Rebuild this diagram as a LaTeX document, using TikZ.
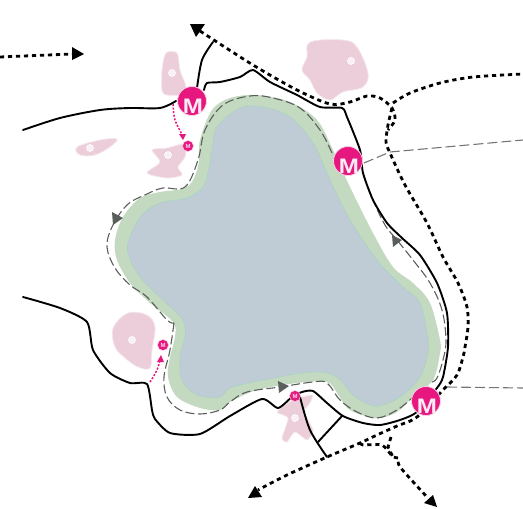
\documentclass[tikz,border=0pt]{standalone}
\usepackage{fontspec}
\setsansfont{Liberation Sans}
\definecolor{lakeGreen}{HTML}{C3DAC0}
\definecolor{lakeWater}{HTML}{BFCCD6}
\definecolor{lakeEdge}{HTML}{A9D3C4}
\definecolor{blobPink}{HTML}{EBCEDA}
\definecolor{metroPink}{HTML}{E6177F}
\definecolor{pathGrey}{HTML}{5A5F5C}
\tikzset{
  blob/.style={fill=blobPink,draw=blobPink!45,line width=.8pt},
  blobhole/.style={circle,fill=white!70!blobPink,draw=white,line width=.6pt,minimum size=7pt,inner sep=0pt},
  road/.style={draw=black,line width=1.9pt,line join=round,line cap=round},
  trail/.style={draw=black,line width=2.8pt,dash pattern=on 4.2pt off 3.8pt},
  thindash/.style={draw=pathGrey,line width=1.1pt,dash pattern=on 9pt off 3.5pt},
  greydash/.style={draw=pathGrey!85!white,line width=1.1pt,dash pattern=on 10pt off 4pt},
  pinkdots/.style={draw=metroPink,line width=1.5pt,dash pattern=on 2pt off 1.6pt},
  metro/.style={circle,fill=metroPink,draw=white!80!metroPink,line width=.8pt,minimum size=29pt,inner sep=0pt},
  metrosmall/.style={circle,fill=metroPink,draw=white!80!metroPink,line width=.5pt,minimum size=11pt,inner sep=0pt},
  metrotext/.style={font=\sffamily\bfseries\fontsize{21}{21}\selectfont,text=white!92!metroPink,inner sep=0pt,xscale=1.15},
  metrotiny/.style={font=\sffamily\bfseries\fontsize{6}{6}\selectfont,text=white!85!metroPink,inner sep=0pt},
}
\begin{document}
\begin{tikzpicture}[x=1pt,y=-1pt]
\useasboundingbox (0,0) rectangle (523,509);
% blobs
\fill[blob] plot[smooth cycle,tension=.5] coordinates {(166,53)(177,53)(180,70)(186,87)(180,95)(163,93)(162,70)};
\fill[blob] plot[smooth cycle,tension=.5] coordinates {(152,150)(167,148)(185,144)(185,157)(178,167)(182,175)(167,178)(147,173)(160,162)};
\fill[blob] plot[smooth cycle,tension=.6] coordinates {(310,42)(343,40)(357,47)(368,73)(363,87)(343,92)(330,100)(317,93)(310,80)(302,70)(307,57)};
\fill[blob] plot[smooth cycle,tension=.6] coordinates {(77,147)(100,140)(117,139)(110,147)(95,155)(80,155)};
\fill[blob] plot[smooth cycle,tension=.6] coordinates {(128,313)(147,315)(155,327)(152,350)(150,368)(138,367)(125,358)(115,347)(113,328)};
\fill[blob] plot[smooth cycle,tension=.4] coordinates {(277,412)(293,400)(312,395)(310,403)(304,412)(313,430)(307,440)(295,432)(287,442)(282,438)(288,418)};
\node[blobhole] (h1) at (172,73) {};
\node[blobhole] (h2) at (168,155) {};
\node[blobhole] (h3) at (351,61) {};
\node[blobhole] (h4) at (90,148) {};
\node[blobhole] (h5) at (132,340) {};
\node[blobhole] (h6) at (295,418) {};
% lake
\fill[lakeGreen] plot[smooth cycle,tension=.55] coordinates {(257,95)(290,102)(317,120)(333,150)(350,187)(373,233)(393,267)(413,283)(430,303)(440,340)(440,353)(433,380)(413,397)(397,412)(377,418)(350,410)(337,393)(327,382)(297,383)(257,390)(230,402)(220,410)(200,408)(177,397)(168,377)(170,357)(175,337)(173,322)(150,303)(130,283)(117,260)(115,240)(123,217)(140,198)(160,192)(187,187)(198,167)(200,140)(212,110)(230,98)};
\filldraw[fill=lakeWater,draw=lakeEdge,line width=.6pt] plot[smooth cycle,tension=.55] coordinates {(263,107)(290,117)(313,143)(330,180)(350,220)(377,260)(403,287)(420,303)(428,340)(427,357)(420,377)(403,395)(383,405)(370,405)(353,395)(337,377)(313,372)(263,380)(230,388)(220,397)(197,395)(182,380)(180,357)(185,337)(183,320)(163,300)(140,277)(128,253)(130,237)(142,215)(160,203)(187,198)(203,187)(208,173)(212,150)(217,127)(240,108)};
% thin dashed walk round the lake
\draw[thindash] plot[smooth,tension=.6] coordinates {(332,153)(320,130)(300,108)(273,98)(250,96)(223,105)(205,130)(198,160)(185,187)(163,188)(147,194)(127,205)(112,227)(107,247)(115,268)(130,285)(147,297)(167,320)(174,323)};
\draw[thindash] plot[smooth,tension=.6] coordinates {(174,323)(170,350)(164,377)(167,397)(180,410)(200,414)(220,410)(230,402)(247,392)(280,387)(313,382)(327,383)(340,400)(357,412)(377,418)(397,410)(412,398)};
\draw[thindash] plot[smooth,tension=.6] coordinates {(432,382)(437,378)(443,360)(446,340)(442,310)(430,283)(413,260)(397,240)(385,225)(373,200)(363,173)};
% roads
\draw[road] plot[smooth,tension=.5] coordinates {(23,130)(60,118)(100,110)(130,108)(160,108)(176,101)};
\draw[road] plot[smooth,tension=.4] coordinates {(204,90)(207,83)(220,82)(240,77)(253,70)(270,82)(297,95)(320,107)(342,108)(347,117)(360,150)(363,173)(373,200)(387,223)(402,238)(420,255)(437,283)(447,313)(448,347)(443,377)(437,388)(417,412)(400,420)(380,425)(363,423)(343,416)(327,403)(313,391)(302,392)(292,397)(278,408)(262,399)(230,416)(200,434)(170,433)(155,419)(152,410)(147,384)(130,383)(110,373)(93,350)(87,322)(60,308)(23,297)};
\draw[road] plot[smooth,tension=.5] coordinates {(197,88)(202,60)(213,42)};
\draw[road] plot[smooth,tension=.5] coordinates {(300,397)(310,430)(327,457)};
\draw[road] (342,416) -- (318,442);
% trails
\draw[trail] plot[smooth,tension=.5] coordinates {(200,31)(253,65)(297,90)(330,104)(350,102)(367,96)(380,98)(392,108)(395,120)(388,130)};
\draw[trail] plot[smooth,tension=.5] coordinates {(393,103)(410,93)(440,83)(473,77)(523,74)};
\draw[trail] plot[smooth,tension=.5] coordinates {(392,108)(388,125)(386,142)(390,153)(405,185)(427,223)(443,257)(458,283)(467,307)(468,327)(465,347)(463,357)(457,375)(443,390)(417,417)(397,426)(377,435)(360,443)(327,457)(287,475)(258,490)};
\draw[trail] plot[smooth,tension=.4] coordinates {(360,443)(363,445)(382,445)(393,457)(398,458)(400,467)(427,497)};
\draw[trail] (391,437) -- (388,447) -- (393,457);
\draw[trail] (0,57) -- (72,54);
% trail heads
\fill (190,24) -- (205,24) -- (196,37) -- cycle;
\fill (72,47) -- (84,54) -- (72,60) -- cycle;
\fill (248,498) -- (255,486) -- (262,497) -- cycle;
\fill (437,507) -- (433,495) -- (424,503) -- cycle;
% walk heads
\fill[pathGrey] (112,212) -- (123,218) -- (113,225) -- cycle;
\fill[pathGrey] (392,235) -- (402,240) -- (393,247) -- cycle;
\fill[pathGrey] (278,381) -- (289,386) -- (279,393) -- cycle;
% metro
\node[metro] (mA) at (192,101) {};
\node[metro] (mB) at (348,161) {};
\node[metro] (mC) at (426,401) {};
\node[metrosmall] (sA) at (188,146) {};
\node[metrosmall] (sB) at (163,345) {};
\node[metrosmall] (sC) at (295,396) {};
\node[metrotext] (tA) at (193,106) {M};
\node[metrotext] (tB) at (349,166) {M};
\node[metrotext] (tC) at (427,406) {M};
\node[metrotiny] (uA) at (188,146) {M};
\node[metrotiny] (uB) at (163,345) {M};
\node[metrotiny] (uC) at (295,396) {M};
% grey connector lines
\coordinate (eB) at (523,140);
\coordinate (eC) at (523,388);
\coordinate (bend) at (390,152);
\coordinate (bendC) at (447,387);
\draw[greydash] (mB) ++(16,2) -- (bend) -- (eB);
\draw[greydash] (bendC) -- (eC);
% pink transfer arrows
\coordinate (pA) at (173,104);
\coordinate (pB) at (150,382);
\draw[pinkdots] plot[smooth,tension=.6] coordinates {(pA)(175,120)(183,136)};
\draw[pinkdots] plot[smooth,tension=.6] coordinates {(pB)(157,370)(160,360)};
\fill[metroPink] (179,134) -- (186,134) -- (183,140) -- cycle;
\fill[metroPink] (157,362) -- (164,362) -- (161,355) -- cycle;
\end{tikzpicture}
\end{document}
